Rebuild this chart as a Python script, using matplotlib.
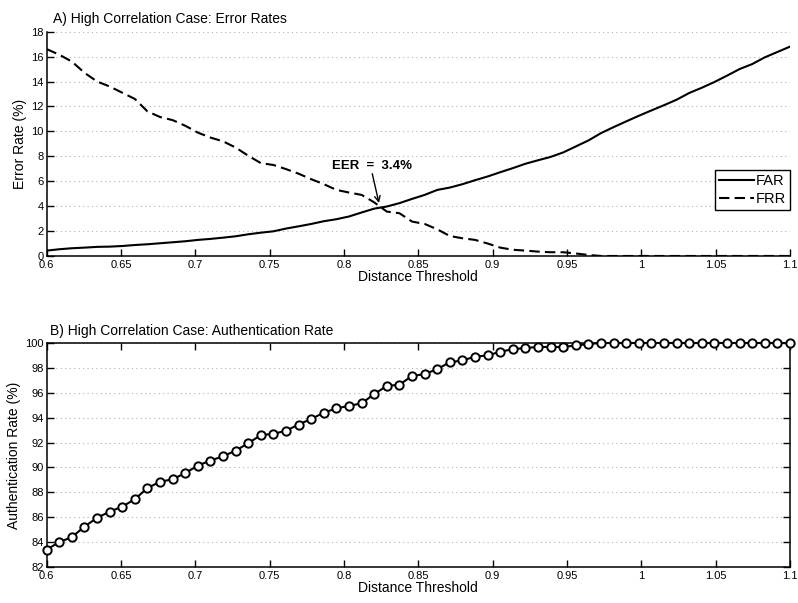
import numpy as np
import matplotlib
matplotlib.use("Agg")
from matplotlib import pyplot as plt
from matplotlib.ticker import FuncFormatter, MultipleLocator

plt.rcParams['font.family'] = ['Liberation Sans', 'DejaVu Sans']

# distance thresholds (60 steps from 0.6 to 1.1)
thresholds = np.linspace(0.6, 1.1, 60)

far = [0.43, 0.54, 0.62, 0.67, 0.73, 0.75, 0.80, 0.88, 0.94, 1.02,
       1.10, 1.18, 1.29, 1.37, 1.47, 1.58, 1.74, 1.87, 1.98, 2.20,
       2.38, 2.57, 2.79, 2.95, 3.17, 3.49, 3.80, 3.97, 4.24, 4.58,
       4.90, 5.30, 5.49, 5.76, 6.08, 6.38, 6.72, 7.05, 7.40, 7.68,
       7.95, 8.31, 8.79, 9.27, 9.86, 10.34, 10.80, 11.25, 11.68, 12.10,
       12.54, 13.08, 13.50, 13.96, 14.47, 15.00, 15.40, 15.94, 16.37, 16.80]

frr = [16.60, 16.15, 15.60, 14.70, 14.00, 13.60, 13.10, 12.60, 11.60, 11.15,
       10.90, 10.45, 9.90, 9.50, 9.20, 8.70, 8.04, 7.45, 7.30, 6.97,
       6.60, 6.16, 5.76, 5.30, 5.09, 4.90, 4.30, 3.56, 3.43, 2.76,
       2.57, 2.14, 1.60, 1.42, 1.29, 1.00, 0.67, 0.50, 0.43, 0.35,
       0.30, 0.30, 0.20, 0.08, 0.0, 0.0, 0.0, 0.0, 0.0, 0.0,
       0.0, 0.0, 0.0, 0.0, 0.0, 0.0, 0.0, 0.0, 0.0, 0.0]

auth_rate = [83.40, 84.00, 84.40, 85.25, 85.95, 86.45, 86.85, 87.45, 88.35, 88.85,
             89.05, 89.55, 90.15, 90.55, 90.90, 91.35, 91.95, 92.60, 92.70, 92.95,
             93.45, 93.90, 94.40, 94.75, 94.95, 95.15, 95.90, 96.55, 96.65, 97.35,
             97.50, 97.90, 98.45, 98.60, 98.90, 99.00, 99.30, 99.50, 99.60, 99.68,
             99.68, 99.68, 99.80, 99.92, 100.0, 100.0, 100.0, 100.0, 100.0, 100.0,
             100.0, 100.0, 100.0, 100.0, 100.0, 100.0, 100.0, 100.0, 100.0, 100.0]

eer_label = "EER  =  3.4%"
eer_point = (0.8235, 4.25)

fig = plt.figure(figsize=(7.98, 6.03), dpi=100)
ax1 = fig.add_axes([0.0585, 0.5755, 0.9315, 0.372])
ax2 = fig.add_axes([0.0585, 0.0597, 0.9315, 0.3715])

fmt = FuncFormatter(lambda v, p: "%g" % round(v, 3))

def style(ax, box):
    ax.set_xlim(0.6, 1.1)
    ax.xaxis.set_major_locator(MultipleLocator(0.05))
    ax.xaxis.set_major_formatter(fmt)
    ax.yaxis.set_major_locator(MultipleLocator(2))
    ax.grid(axis='y', color='#b0b0b0', linestyle=(0, (1, 3)), linewidth=0.8)
    ax.set_axisbelow(True)
    ax.tick_params(direction='in', length=5, width=1, labelsize=8, pad=2,
                   top=box, right=box)
    ax.tick_params(axis='x', pad=3)
    for s in ax.spines.values():
        s.set_linewidth(1.1)
    if not box:
        ax.spines['top'].set_visible(False)
        ax.spines['right'].set_visible(False)
    ax.set_xlabel("Distance Threshold", fontsize=10, labelpad=0)

# A) error rates
style(ax1, box=False)
ax1.set_ylim(0, 18)
ax1.plot(thresholds, far, color='k', lw=1.5, label='FAR')
ax1.plot(thresholds, frr, color='k', lw=1.5, dashes=(5, 2.5), label='FRR')
ax1.set_ylabel("Error Rate (%)", fontsize=10, labelpad=3)
ax1.set_title("A) High Correlation Case: Error Rates", fontsize=10,
              loc='left', x=0.008, pad=6)
ax1.text(0.819, 7.18, eer_label, fontsize=9.5, fontweight='bold',
         ha='center', va='center')
ax1.annotate('', xy=eer_point, xytext=(0.819, 6.6),
             arrowprops=dict(arrowstyle='->', color='k', lw=1,
                             shrinkA=0, shrinkB=0, mutation_scale=10))
leg = ax1.legend(loc='lower right', bbox_to_anchor=(1.0, 0.205),
                 borderaxespad=0, fancybox=False, framealpha=1,
                 edgecolor='k', fontsize=10.5, handlelength=2.4,
                 handletextpad=0.1, labelspacing=0.25, borderpad=0.3)
leg.get_frame().set_linewidth(1)

# B) authentication rate
style(ax2, box=True)
ax2.set_ylim(82, 100)
ax2.plot(thresholds, auth_rate, color='k', lw=1.5, marker='o',
         markersize=6, markerfacecolor='white', markeredgewidth=1.4,
         clip_on=False, zorder=3)
ax2.set_ylabel("Authentication Rate (%)", fontsize=10, labelpad=3)
ax2.set_title("B) High Correlation Case: Authentication Rate", fontsize=10,
              loc='left', x=0.005, pad=6)

fig.savefig("out.png", dpi=100)
